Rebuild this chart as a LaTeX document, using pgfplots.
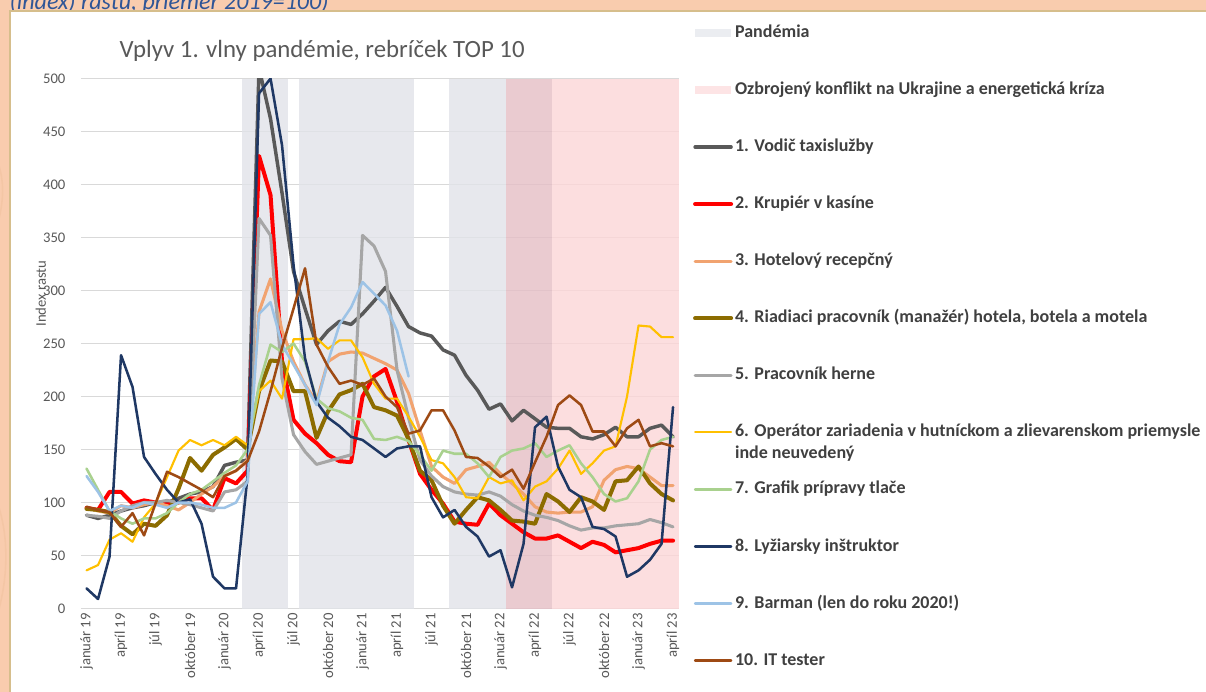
\documentclass[border=0pt]{standalone}
\usepackage{fontspec}
\setmainfont{Carlito}
\usepackage{pgfplots}
\usepackage{pgfplotstable}
\pgfplotsset{compat=1.18}

\definecolor{peach}{RGB}{249,204,174}
\definecolor{frame}{RGB}{214,190,140}
\definecolor{topblue}{RGB}{47,85,151}
\definecolor{txt}{RGB}{89,89,89}
\definecolor{legtxt}{RGB}{64,64,64}
\definecolor{gridc}{RGB}{217,217,217}
\definecolor{cGray}{RGB}{225,227,233}
\definecolor{cPink}{RGB}{252,214,215}
\definecolor{cOver}{RGB}{229,190,197}
\definecolor{cGrayL}{RGB}{231,233,238}
\definecolor{cPinkL}{RGB}{253,222,223}
\definecolor{cTaxi}{RGB}{89,89,89}
\definecolor{cRed}{RGB}{255,0,0}
\definecolor{cOrange}{RGB}{241,163,112}
\definecolor{cOlive}{RGB}{140,108,0}
\definecolor{cHerne}{RGB}{166,166,166}
\definecolor{cYellow}{RGB}{255,192,0}
\definecolor{cGreen}{RGB}{169,209,142}
\definecolor{cNavy}{RGB}{31,56,100}
\definecolor{cBlue}{RGB}{157,195,230}
\definecolor{cBrown}{RGB}{158,74,20}

% index rastu, mesiace jan 2019 (0) .. apr 2023 (51)
\pgfplotstableread{
i  t   r   o   v   h   y   g   n   b   w
0  88  95  95  94  88  36  132 19  125 96
1  85  93  92  93  87  41  112 9   110 93
2  88  110 90  91  85  65  92  49  92  91
3  92  110 97  78  92  71  85  239 97  77
4  95  99  95  70  97  63  80  209 95  90
5  97  102 98  80  100 86  85  143 100 69
6  100 100 100 78  100 99  85  127 98  99
7  100 98  97  88  102 124 90  112 95  129
8  104 100 93  113 100 149 100 100 100 124
9  108 104 100 142 98  159 108 103 100 118
10 110 104 108 130 95  154 112 80  98  112
11 115 93  115 145 92  159 120 30  95  105
12 135 123 125 152 110 154 128 19  95  125
13 138 118 130 160 112 162 135 19  100 130
14 140 130 140 150 120 154 150 125 120 139
15 510 427 280 205 368 205 211 486 278 167
16 462 390 311 234 352 215 249 500 289 205
17 392 233 262 233 217 198 242 437 249 246
18 318 178 233 205 164 254 250 324 230 283
19 283 165 211 205 148 254 233 236 211 321
20 249 156 195 161 136 255 198 195 192 249
21 262 145 233 186 139 245 189 180 233 228
22 271 139 240 202 142 253 186 172 268 212
23 268 138 242 206 145 253 180 162 284 215
24 278 200 241 212 352 237 178 159 308 211
25 290 219 236 190 342 212 160 151 297 217
26 303 226 231 187 318 198 159 143 286 200
27 285 195 225 182 225 198 162 151 262 190
28 266 159 203 160 180 181 158 153 219 165
29 260 127 168 130 140 162 145 153 nan 168
30 257 112 134 121 125 140 130 105 nan 187
31 244 99  124 97  115 137 149 86  nan 187
32 239 82  118 80  110 124 146 93  nan 168
33 220 80  131 93  108 105 146 77  nan 143
34 206 79  134 105 107 104 137 68  nan 142
35 188 99  138 102 110 124 124 49  nan 134
36 193 88  127 93  106 118 143 55  nan 124
37 177 80  118 83  98  121 149 20  nan 131
38 187 72  108 82  92  102 151 61  nan 113
39 179 66  96  80  88  115 156 171 nan 138
40 171 66  91  108 86  120 143 181 nan 162
41 170 69  90  101 83  132 149 134 nan 192
42 170 63  91  91  78  149 154 112 nan 201
43 162 57  91  105 74  127 137 105 nan 192
44 160 63  96  101 76  137 124 77  nan 167
45 164 60  121 93  76  149 108 75  nan 167
46 171 53  131 120 78  153 101 68  nan 153
47 162 55  134 121 79  200 104 30  nan 170
48 162 57  132 134 80  267 120 36  nan 178
49 170 61  124 118 84  266 150 46  nan 153
50 173 64  116 108 81  256 159 61  nan 156
51 162 64  116 102 77  256 162 190 nan 153
}\indexdata

\begin{document}
\begin{tikzpicture}[x=1pt,y=1pt]
\fill[peach] (0,0) rectangle (904.5,519);
\begin{scope}
\clip (0,0) rectangle (904.5,519);
\draw[peach!85!brown, line width=1.2pt, opacity=0.5] (-20,420) .. controls (10,400) and (5,360) .. (-10,330);
\draw[peach!85!brown, line width=1.2pt, opacity=0.5] (-5,150) .. controls (8,120) and (8,80) .. (-8,40);
\node[anchor=base west, inner sep=0pt, font=\itshape\fontsize{18}{21}\selectfont, text=topblue] at (7,512) {(index) rastu, priemer 2019=100)};
\end{scope}
\fill[white] (7.5,0) rectangle (904.5,510.75);
\draw[frame, line width=1.1pt] (7.5,0) -- (7.5,510.75) -- (904.5,510.75);

\begin{axis}[
  at={(70.25,78.75)}, anchor=south west,
  scale only axis, width=448.5pt, height=397.5pt,
  xmin=-0.5, xmax=51.5, ymin=0, ymax=500,
  axis line style={draw=none},
  major tick length=0pt,
  ymajorgrids, major grid style={gridc, line width=0.8pt},
  ytick={0,50,...,500},
  xtick={0,3,...,51},
  xticklabels={január 19, apríl 19, júl 19, október 19, január 20, apríl 20, júl 20, október 20, január 21, apríl 21, júl 21, október 21, január 22, apríl 22, júl 22, október 22, január 23, apríl 23},
  ticklabel style={font=\fontsize{11}{13}\selectfont, text=txt},
  /pgf/number format/assume math mode=true,
  yticklabel style={xshift=-8pt},
  xticklabel style={rotate=90, anchor=east},
  ylabel={Index rastu},
  ylabel style={at={(axis description cs:-0.067,0.594)}, anchor=center, font=\fontsize{11}{13}\selectfont, text=txt},
  title={Vplyv 1. vlny pandémie, rebríček TOP 10},
  title style={at={(axis description cs:0.057,1.0377)}, anchor=west, font=\fontsize{18.6}{21}\selectfont, text=txt},
  every axis plot/.append style={mark=none, line join=round, line cap=round},
  legend image code/.code={\draw[#1] (0pt,0pt) -- (27pt,0pt);},
  legend cell align=left,
  legend style={at={(axis description cs:1.0235,1.107)}, anchor=north west,
    draw=none, fill=none, inner sep=0pt, row sep=26.55pt, column sep=0pt,
    font=\fontsize{13.5}{16}\selectfont\bfseries, text=legtxt,
    nodes={text height=9.5pt, text depth=2.75pt, inner ysep=2pt, inner xsep=1.5pt}},
]
% obdobia
\addplot[draw=none, fill=cGray, fill opacity=0.8,
  legend image code/.code={\fill[cGrayL] (0pt,-3pt) rectangle (27pt,3pt);}]
  coordinates {(13.5,500) (17.5,500)} \closedcycle;
\addlegendentry{Pandémia}
\addplot[draw=none, fill=cPink, fill opacity=0.8,
  legend image code/.code={\fill[cPinkL] (0pt,-3pt) rectangle (27pt,3pt);}]
  coordinates {(40.5,500) (51.5,500)} \closedcycle;
\addlegendentry{Ozbrojený konflikt na Ukrajine a energetická kríza}
\addplot[draw=none, fill=cGray, fill opacity=0.8, forget plot]
  coordinates {(18.5,500) (28.5,500)} \closedcycle;
\addplot[draw=none, fill=cGray, fill opacity=0.8, forget plot]
  coordinates {(31.5,500) (36.5,500)} \closedcycle;
\addplot[draw=none, fill=cOver, fill opacity=0.8, forget plot]
  coordinates {(36.5,500) (40.5,500)} \closedcycle;
% rady
\addplot[cTaxi, line width=2.6pt] table[x=i, y=t] {\indexdata};
\addlegendentry{1. Vodič taxislužby}
\addplot[cRed, line width=3pt] table[x=i, y=r] {\indexdata};
\addlegendentry{2. Krupiér v kasíne}
\addplot[cOrange, line width=2.3pt] table[x=i, y=o] {\indexdata};
\addlegendentry{3. Hotelový recepčný}
\addplot[cOlive, line width=3pt] table[x=i, y=v] {\indexdata};
\addlegendentry{4. Riadiaci pracovník (manažér) hotela, botela a motela}
\addplot[cHerne, line width=2.3pt] table[x=i, y=h] {\indexdata};
\addlegendentry{5. Pracovník herne}
\addplot[cYellow, line width=1.6pt] table[x=i, y=y] {\indexdata};
\addlegendentry{\begin{tabular}[t]{@{}l@{}}6. Operátor zariadenia v hutníckom a zlievarenskom priemysle\\inde neuvedený\end{tabular}}
\addplot[cGreen, line width=1.9pt] table[x=i, y=g] {\indexdata};
\addlegendentry{7. Grafik prípravy tlače}
\addplot[cNavy, line width=1.9pt] table[x=i, y=n] {\indexdata};
\addlegendentry{8. Lyžiarsky inštruktor}
\addplot[cBlue, line width=1.9pt] table[x=i, y=b] {\indexdata};
\addlegendentry{9. Barman (len do roku 2020!)}
\addplot[cBrown, line width=1.9pt] table[x=i, y=w] {\indexdata};
\addlegendentry{10. IT tester}
\end{axis}
\pgfresetboundingbox
\path[use as bounding box] (0,0) rectangle (904.5,519);
\end{tikzpicture}
\end{document}
